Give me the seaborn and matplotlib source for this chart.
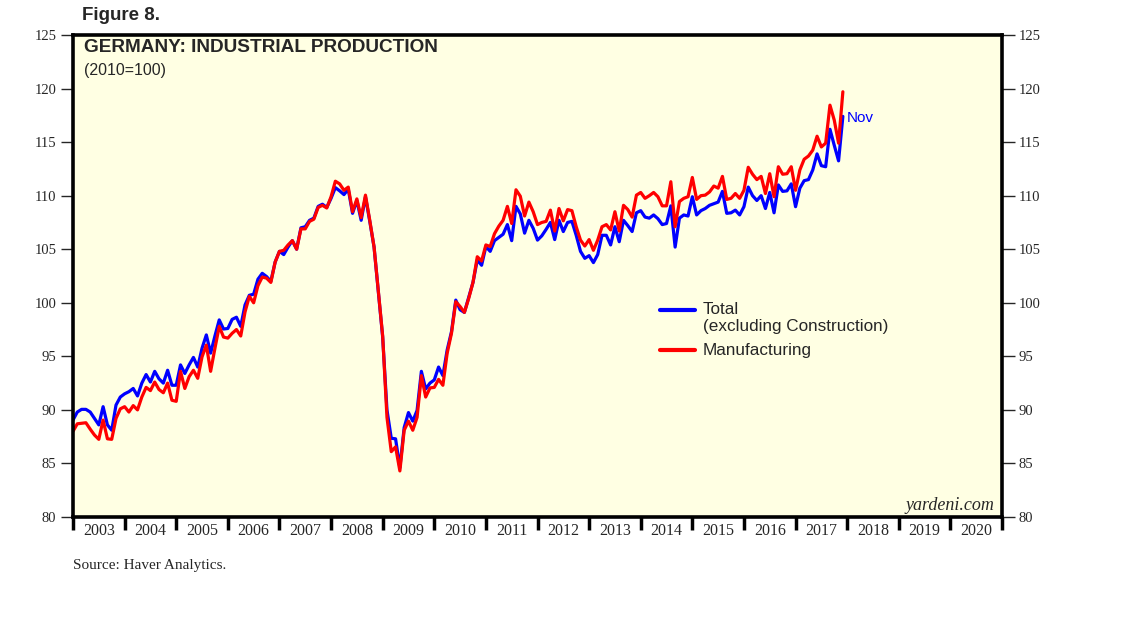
import numpy as np
import pandas as pd
import matplotlib
matplotlib.use("Agg")
import matplotlib.pyplot as plt
import seaborn as sns

# ---- data (monthly, Dec 2002 .. Nov 2017, plotted at month end) ----
total = [
    89.05, 89.8, 90.05, 90.05, 89.8, 89.2, 88.6, 90.3, 88.6, 88.1, 90.45, 91.2,
    91.5, 91.7, 92.0, 91.3, 92.5, 93.3, 92.6, 93.6, 92.9, 92.5, 93.7, 92.3,
    92.3, 94.2, 93.4, 94.2, 94.9, 94.0, 95.75, 97.0, 95.3, 96.9, 98.4, 97.55,
    97.6, 98.45, 98.65, 97.8, 99.8, 100.7, 100.8, 102.2, 102.75, 102.45, 102.0, 103.8,
    104.8, 104.5, 105.2, 105.8, 105.0, 107.0, 107.1, 107.7, 107.9, 109.0, 109.2, 108.9,
    109.75, 110.75, 110.45, 110.1, 110.6, 108.35, 109.55, 107.7, 109.9, 107.6, 105.2, 101.0,
    96.8, 90.0, 87.35, 87.3, 84.6, 88.35, 89.75, 88.95, 89.95, 93.6, 91.95, 92.5,
    92.8, 94.0, 93.2, 95.6, 97.3, 100.25, 99.35, 99.1, 100.5, 101.9, 104.0, 103.5,
    105.25, 104.8, 105.8, 106.1, 106.4, 107.3, 105.8, 109.0, 108.3, 106.5, 107.7, 106.95,
    105.85, 106.25, 106.85, 107.5, 105.9, 107.7, 106.65, 107.5, 107.6, 106.3, 104.8, 104.15,
    104.4, 103.75, 104.5, 106.3, 106.3, 105.4, 107.1, 105.7, 107.7, 107.2, 106.65, 108.4,
    108.6, 108.0, 107.9, 108.2, 107.85, 107.3, 107.4, 109.05, 105.2, 107.9, 108.2, 108.1,
    109.9, 108.2, 108.6, 108.8, 109.1, 109.25, 109.4, 110.4, 108.35, 108.4, 108.65, 108.2,
    108.97, 110.8, 110.0, 109.55, 110.0, 108.8, 110.3, 108.4, 111.0, 110.4, 110.45, 111.1,
    108.97, 110.7, 111.4, 111.5, 112.4, 113.9, 112.8, 112.7, 116.2, 114.7, 113.25, 117.4,
]
manufacturing = [
    88.0, 88.7, 88.75, 88.8, 88.2, 87.65, 87.25, 89.05, 87.3, 87.25, 89.2, 90.1,
    90.3, 89.8, 90.4, 90.0, 91.2, 92.1, 91.8, 92.6, 91.9, 91.6, 92.5, 90.9,
    90.8, 93.6, 92.0, 93.1, 93.7, 92.95, 94.95, 96.05, 93.6, 95.75, 97.8, 96.8,
    96.7, 97.15, 97.5, 96.9, 99.15, 100.6, 100.0, 101.6, 102.4, 102.3, 101.9, 103.8,
    104.8, 104.9, 105.4, 105.8, 105.0, 106.9, 106.9, 107.6, 107.8, 108.9, 109.1, 108.85,
    109.9, 111.35, 111.1, 110.5, 110.8, 108.5, 109.7, 107.95, 110.05, 107.7, 105.2, 101.0,
    96.9, 89.3, 86.1, 86.55, 84.3, 88.1, 88.95, 88.1, 89.3, 93.2, 91.2, 92.05,
    92.1, 92.85, 92.3, 95.3, 97.15, 100.1, 99.65, 99.1, 100.4, 101.9, 104.3, 103.9,
    105.4, 105.25, 106.45, 107.15, 107.7, 109.0, 107.4, 110.55, 109.95, 108.1, 109.4, 108.5,
    107.3, 107.5, 107.6, 108.65, 106.7, 108.8, 107.65, 108.7, 108.6, 107.1, 105.85, 105.3,
    105.9, 104.9, 105.85, 107.1, 107.3, 106.8, 108.5, 106.7, 109.1, 108.7, 108.0, 110.05,
    110.3, 109.75, 110.0, 110.3, 109.9, 109.05, 109.05, 111.3, 107.1, 109.45, 109.75, 109.9,
    111.7, 109.65, 110.0, 110.05, 110.35, 110.9, 110.7, 111.8, 109.65, 109.75, 110.2, 109.75,
    110.5, 112.65, 112.0, 111.5, 111.8, 110.2, 112.05, 109.9, 112.7, 112.0, 112.05, 112.7,
    110.5, 112.4, 113.4, 113.7, 114.25, 115.55, 114.55, 114.9, 118.45, 117.05, 114.9, 119.7,
]
year_labels = [str(y) for y in range(2003, 2021)]
y_ticks = list(range(80, 126, 5))
series_names = ["Total\n(excluding Construction)", "Manufacturing"]

# ---- build frame ----
n = len(total)
dates = 2003 + np.arange(n) / 12.0
df = pd.DataFrame({
    "date": np.concatenate([dates, dates]),
    "value": np.concatenate([total, manufacturing]),
    "series": [series_names[0]] * n + [series_names[1]] * n,
})

sns.set_style("white")
plt.rcParams["font.family"] = ["Liberation Sans", "DejaVu Sans"]

W, H = 1138, 621
fig = plt.figure(figsize=(W / 100, H / 100), dpi=100)
fig.patch.set_facecolor("white")
ax = fig.add_axes([73 / W, 1 - 517 / H, (1002 - 73) / W, (517 - 35) / H])
ax.set_facecolor("#FFFFE3")

sns.lineplot(data=df, x="date", y="value", hue="series",
             palette={series_names[0]: "#0000FF", series_names[1]: "#FF0000"},
             linewidth=2.3, ax=ax, legend=False, estimator=None, sort=False)

ax.set_xlim(2003, 2021)
ax.set_ylim(80, 125)
ax.set_xlabel("")
ax.set_ylabel("")

for s in ax.spines.values():
    s.set_linewidth(2.6)
    s.set_color("black")

# x ticks: year boundaries as tick marks, labels centered mid-year
ax.set_xticks(np.arange(2003, 2022))
ax.set_xticklabels([])
ax.set_xticks(np.arange(2003.5, 2021.0, 1.0), minor=True)
ax.set_xticklabels(year_labels, minor=True, family="Liberation Serif", fontsize=11.5)
ax.tick_params(axis="x", which="major", direction="out", length=9, width=2.5,
               bottom=True, top=False, color="black")
ax.tick_params(axis="x", which="minor", length=0, pad=4)

ax.set_yticks(y_ticks)
ax.set_yticklabels([str(v) for v in y_ticks], family="Liberation Serif", fontsize=10.5)
ax.tick_params(axis="y", which="major", direction="out", length=9, width=1,
               left=True, right=True, labelleft=True, labelright=True, pad=3)

# texts
def fx(px):
    return px / W

def fy(py):
    return 1 - py / H

fig.text(fx(82), fy(16), "Figure 8.", fontsize=13.5, fontweight="bold",
         ha="left", va="center", family="Liberation Sans")
fig.text(fx(84), fy(48), "GERMANY: INDUSTRIAL PRODUCTION", fontsize=13.7,
         fontweight="bold", ha="left", va="center", family="Liberation Sans")
fig.text(fx(84), fy(70), "(2010=100)", fontsize=11.5, ha="left", va="center",
         family="Liberation Sans")
fig.text(fx(994), fy(505), "yardeni.com", fontsize=13, style="italic",
         ha="right", va="center", family="Liberation Serif")
fig.text(fx(73), fy(565), "Source: Haver Analytics.", fontsize=11,
         ha="left", va="center", family="Liberation Serif")
fig.text(fx(847), fy(118), "Nov", fontsize=11, color="#0000FF",
         ha="left", va="center", family="Liberation Sans")

# legend (manual)
for yy, col in [(310, "#0000FF"), (350, "#FF0000")]:
    fig.add_artist(plt.Line2D([fx(660), fx(695)], [fy(yy), fy(yy)], color=col,
                              linewidth=3, transform=fig.transFigure))
fig.text(fx(703), fy(310), "Total", fontsize=12.3, ha="left", va="center")
fig.text(fx(703), fy(327), "(excluding Construction)", fontsize=12.3, ha="left", va="center")
fig.text(fx(703), fy(351), "Manufacturing", fontsize=12.3, ha="left", va="center")

fig.savefig("out.png", dpi=100, facecolor="white")
